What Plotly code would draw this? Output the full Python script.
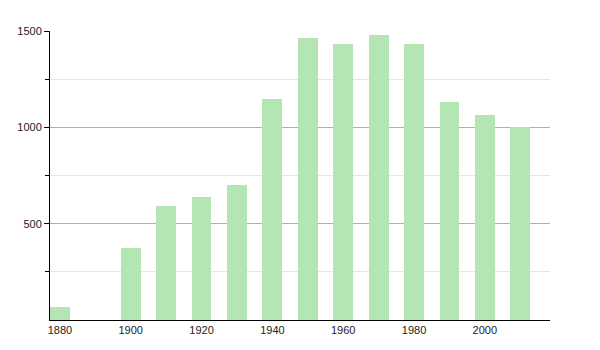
import plotly.graph_objects as go

years = [1880, 1900, 1910, 1920, 1930, 1940, 1950, 1960, 1970, 1980, 1990, 2000, 2010]
population = [67, 375, 592, 638, 700, 1145, 1465, 1434, 1477, 1434, 1131, 1062, 1000]
x_ticks = [1880, 1900, 1920, 1940, 1960, 1980, 2000]
y_ticks = [500, 1000, 1500]

fig = go.Figure(go.Bar(
    x=years, y=population, width=5.6,
    marker=dict(color="#b3e6b3", line=dict(width=0)),
))

fig.update_layout(
    width=600, height=350,
    margin=dict(l=50, r=50, t=31, b=30),
    plot_bgcolor="white", paper_bgcolor="white",
    font=dict(family="Liberation Sans, Arial, sans-serif", size=11, color="#222"),
    showlegend=False,
    bargap=0,
)
fig.update_xaxes(
    range=[1877.2, 2018.4], tickvals=x_ticks, ticktext=[str(v) for v in x_ticks],
    showline=True, linecolor="black", linewidth=1, ticks="", showgrid=False,
    zeroline=False, ticklabelstandoff=0,
)
fig.update_yaxes(
    range=[0, 1500], tickvals=y_ticks, ticktext=[str(v) for v in y_ticks],
    showline=True, linecolor="black", linewidth=1, ticks="outside", ticklen=5,
    tickcolor="black", showgrid=True, gridcolor="#b0b0b0", gridwidth=1,
    zeroline=False,
    minor=dict(tickvals=[250, 750, 1250], showgrid=True, gridcolor="#e6e6e6",
               ticks="outside", ticklen=4, tickcolor="black"),
)

fig.write_html("out.html")
